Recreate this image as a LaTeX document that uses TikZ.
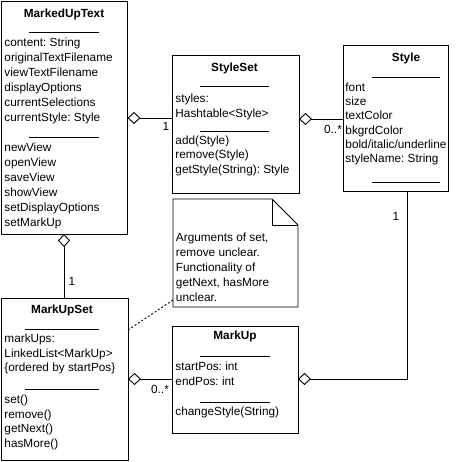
\documentclass[tikz,border=0pt]{standalone}
\usepackage{fontspec}
\setmainfont{Liberation Sans}
\usetikzlibrary{arrows.meta}
\frenchspacing
\begin{document}
\begin{tikzpicture}[x=1pt,y=-1pt,
  line width=0.9pt,
  classbox/.style={draw, inner sep=0pt, outer sep=0pt, anchor=north west},
  notebox/.style={inner sep=0pt, outer sep=0pt, anchor=north west},
  txt/.style={inner sep=0pt, anchor=base west, font=\fontsize{11.8}{14}\selectfont},
  ttl/.style={inner sep=0pt, anchor=base, font=\fontsize{11.8}{14}\selectfont\bfseries},
  mult/.style={inner sep=0pt, anchor=base, font=\fontsize{11.8}{14}\selectfont},
  agg/.style={{Diamond[open,length=13pt,width=12pt]}-},
  notelink/.style={dash pattern=on 2pt off 2pt},
]
\useasboundingbox (0,0) rectangle (471,462);

% ---- MarkedUpText ----
\node[classbox, minimum width=126.5pt, minimum height=233pt] (mt) at (1,1) {};
\node[ttl] (mt-t) at (64,17.5) {MarkedUpText};
\draw (29,32) -- (99,32);
\foreach \t [count=\i] in {content: String, originalTextFilename, viewTextFilename, displayOptions, currentSelections, currentStyle: Style}
  \node[txt] (mt-a\i) at (4,{31.5+15*\i}) {\t};
\draw (29,137) -- (99,137);
\foreach \t [count=\i] in {newView, openView, saveView, showView, setDisplayOptions, setMarkUp}
  \node[txt] (mt-m\i) at (4,{136.5+15*\i}) {\t};

% ---- StyleSet ----
\node[classbox, minimum width=127pt, minimum height=138pt] (ss) at (172,55) {};
\node[ttl] (ss-t) at (234.5,72) {StyleSet};
\draw (200,86) -- (269,86);
\foreach \t [count=\i] in {styles:, Hashtable<Style>}
  \node[txt] (ss-a\i) at (175,{87.5+15*\i}) {\t};
\draw (200,131) -- (269,131);
\foreach \t [count=\i] in {add(Style), remove(Style), getStyle(String): Style}
  \node[txt] (ss-m\i) at (175,{130+14.5*\i}) {\t};

% ---- Style ----
\node[classbox, minimum width=105pt, minimum height=146pt] (st) at (343,45) {};
\node[ttl] (st-t) at (406,62) {Style};
\draw (372,77) -- (440,77);
\foreach \t [count=\i] in {font, size, textColor, bkgrdColor, bold/italic/underline, styleName: String}
  \node[txt] (st-a\i) at (345,{77.3+14.2*\i}) {\t};
\draw (372,182) -- (440,182);

% ---- MarkUpSet ----
\node[classbox, minimum width=127pt, minimum height=162pt] (mus) at (1,298) {};
\node[ttl] (mus-t) at (62,313.5) {MarkUpSet};
\draw (25,329) -- (99,329);
\foreach \t [count=\i] in {markUps:, LinkedList<MarkUp>, \{ordered by startPos\}}
  \node[txt] (mus-a\i) at (4,{328+14.5*\i}) {\t};
\draw (25,389) -- (99,389);
\foreach \t [count=\i] in {set(), remove(), getNext(), hasMore()}
  \node[txt] (mus-m\i) at (4,{388.8+14.7*\i}) {\t};

% ---- MarkUp ----
\node[classbox, minimum width=126pt, minimum height=107pt] (mu) at (172,326) {};
\node[ttl] (mu-t) at (235,339) {MarkUp};
\draw (200,356) -- (270,356);
\foreach \t [count=\i] in {startPos: int, endPos: int}
  \node[txt] (mu-a\i) at (175,{355.5+15*\i}) {\t};
\draw (200,402) -- (270,402);
\node[txt] (mu-m1) at (175,415.5) {changeStyle(String)};

% ---- Note ----
\node[notebox, minimum width=125pt, minimum height=108pt] (note) at (173,199) {};
\draw (note.north west) -- ([xshift=-26pt]note.north east) -- ([yshift=-26pt]note.north east)
  -- (note.south east) -- (note.south west) -- cycle;
\draw ([xshift=-26pt]note.north east) |- ([yshift=-26pt]note.north east);
\foreach \t [count=\i] in {{Arguments of set,}, remove unclear., Functionality of, {getNext, hasMore}, unclear.}
  \node[txt] (note-l\i) at (175.5,{226.5+15*\i}) {\t};

% ---- connectors ----
\draw[agg] (mt.east |- 0,118) -- (ss.west |- 0,118);
\node[mult] (m1) at (166,131) {1};

\draw[agg] (ss.east |- 0,119) -- (st.west |- 0,119);
\node[mult] (m2) at (333,134) {0..*};

\draw[agg] (mt.south -| 64,0) -- (mus.north -| 64,0);
\node[mult] (m3) at (72,286) {1};

\draw[agg] (mus.east |- 0,379) -- (mu.west |- 0,379);
\node[mult] (m4) at (160,393) {0..*};

\draw[agg] (mu.east |- 0,379) -| (st.south -| 407,0);
\node[mult] (m5) at (396,220.5) {1};

\draw[notelink] (mus.east |- 0,330) -- (note.west |- 0,300);
\end{tikzpicture}
\end{document}
